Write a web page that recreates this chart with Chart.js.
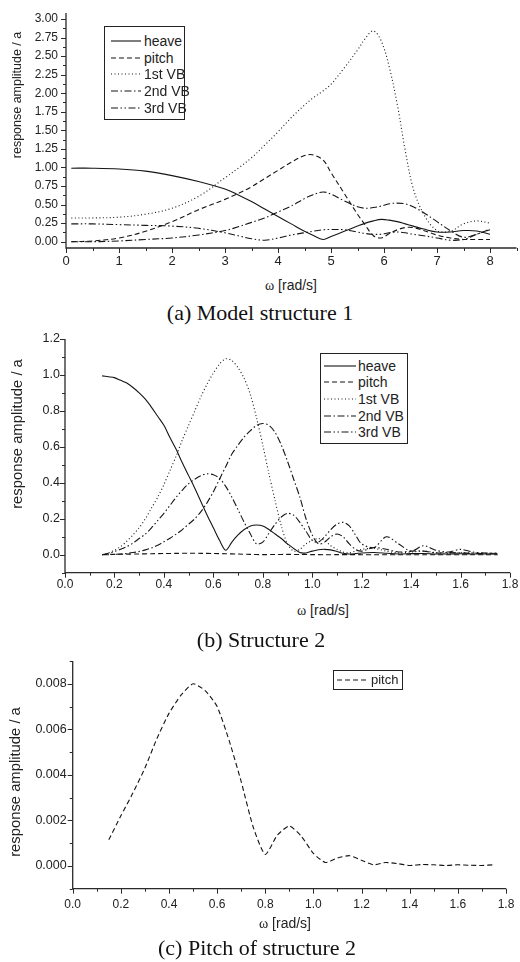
<!DOCTYPE html>
<html><head><meta charset="utf-8">
<script src="https://cdn.jsdelivr.net/npm/chart.js@4.4.1/dist/chart.umd.min.js"></script>
<style>
html,body{margin:0;padding:0;background:#fff;}
body{width:520px;height:962px;position:relative;overflow:hidden;font-family:"Liberation Sans",Arial,sans-serif;color:#222;}
canvas{position:absolute;left:0;}
.ytitle{position:absolute;white-space:nowrap;transform:translate(-50%,-50%) rotate(-90deg);line-height:1;color:#222;}
.xtitle{position:absolute;white-space:nowrap;transform:translate(-50%,-50%);line-height:1;font-size:14px;color:#222;}
.xtitle .w{font-family:"Liberation Serif","Times New Roman",serif;}
.caption{position:absolute;white-space:nowrap;transform:translate(-50%,-50%);font-family:"Liberation Serif","Times New Roman",serif;font-size:22px;line-height:1;color:#111;}
.legend{position:absolute;border:1px solid #222;background:#fff;box-sizing:border-box;}
.legend .row{position:absolute;left:0;height:16px;display:flex;align-items:center;white-space:nowrap;color:#222;}
.legend svg{position:absolute;top:6px;}
.legend span{position:absolute;line-height:16px;top:0;}
</style></head><body>
<canvas id="ca" width="520" height="275" style="top:0px"></canvas>
<canvas id="cb" width="520" height="270" style="top:330px"></canvas>
<canvas id="cc" width="520" height="265" style="top:650px"></canvas>

<div class="ytitle" style="left:17px;top:95px;font-size:12.5px">response amplitude / a</div>
<div class="xtitle" style="left:291px;top:285px"><span class="w">ω</span> [rad/s]</div>
<div class="caption" style="left:260px;top:313px">(a) Model structure 1</div>

<div class="ytitle" style="left:17px;top:434px;font-size:14.8px">response amplitude / a</div>
<div class="xtitle" style="left:323px;top:610px"><span class="w">ω</span> [rad/s]</div>
<div class="caption" style="left:261px;top:640px">(b) Structure 2</div>

<div class="ytitle" style="left:15px;top:782px;font-size:14.8px">response amplitude / a</div>
<div class="xtitle" style="left:285px;top:923px"><span class="w">ω</span> [rad/s]</div>
<div class="caption" style="left:257px;top:948px">(c) Pitch of structure 2</div>

<div id="lega" class="legend" style="left:104px;top:26px;width:81px;height:94px"></div>
<div id="legb" class="legend" style="left:320px;top:353px;width:88px;height:91px"></div>
<div id="legc" class="legend" style="left:333px;top:670px;width:70px;height:20px"></div>

<script>
// ---------------- data ----------------
const seriesNames = ['heave', 'pitch', '1st VB', '2nd VB', '3rd VB'];

// (a) Model structure 1
const omegaA = [0.1,0.5,1,1.5,2,2.5,3,3.25,3.5,3.75,4,4.25,4.5,4.65,4.85,5,5.25,5.5,5.65,5.8,5.95,6.1,6.25,6.4,6.55,6.75,7,7.25,7.5,7.75,8];
const heaveA = [0.99,0.99,0.98,0.95,0.89,0.81,0.71,0.63,0.54,0.44,0.34,0.24,0.14,0.09,0.03,0.07,0.14,0.21,0.25,0.28,0.30,0.29,0.27,0.24,0.21,0.17,0.13,0.13,0.15,0.145,0.10];
const pitchA = [0.0,0.01,0.05,0.14,0.27,0.43,0.57,0.65,0.74,0.85,0.96,1.07,1.16,1.17,1.10,0.93,0.65,0.37,0.22,0.08,0.05,0.11,0.16,0.19,0.19,0.15,0.09,0.05,0.03,0.03,0.03];
const vb1A = [0.32,0.32,0.33,0.37,0.45,0.61,0.86,0.99,1.13,1.30,1.48,1.67,1.84,1.93,2.03,2.12,2.34,2.58,2.74,2.84,2.70,2.35,1.85,1.23,0.72,0.37,0.15,0.14,0.24,0.28,0.25];
const vb2A = [0.0,0.0,0.01,0.03,0.05,0.09,0.15,0.20,0.26,0.32,0.40,0.48,0.58,0.63,0.67,0.64,0.55,0.47,0.45,0.46,0.48,0.51,0.52,0.51,0.47,0.39,0.27,0.15,0.06,0.10,0.17];
const vb3A = [0.24,0.24,0.23,0.22,0.21,0.18,0.12,0.08,0.04,0.02,0.05,0.09,0.12,0.14,0.16,0.165,0.16,0.13,0.11,0.10,0.10,0.12,0.13,0.12,0.10,0.08,0.05,0.02,0.03,0.10,0.16];

// (b) Structure 2
const omegaB = [0.15,0.175,0.2,0.225,0.25,0.275,0.3,0.325,0.35,0.375,0.4,0.425,0.45,0.475,0.5,0.525,0.55,0.575,0.6,0.625,0.65,0.675,0.7,0.725,0.75,0.775,0.8,0.825,0.85,0.875,0.9,0.925,0.95,0.975,1.0,1.025,1.05,1.075,1.1,1.125,1.15,1.175,1.2,1.25,1.3,1.35,1.4,1.45,1.5,1.55,1.6,1.65,1.7,1.75];
const heaveB = [0.995,0.99,0.985,0.97,0.955,0.93,0.90,0.865,0.82,0.77,0.72,0.65,0.585,0.51,0.44,0.37,0.295,0.22,0.15,0.08,0.025,0.07,0.11,0.14,0.16,0.165,0.16,0.14,0.115,0.09,0.06,0.035,0.012,0.01,0.02,0.028,0.03,0.027,0.018,0.008,0.004,0.006,0.01,0.012,0.008,0.004,0.006,0.007,0.004,0.004,0.005,0.004,0.004,0.004];
const vb1B = [0.0,0.01,0.025,0.045,0.075,0.11,0.15,0.20,0.26,0.32,0.39,0.47,0.55,0.64,0.72,0.80,0.88,0.95,1.01,1.06,1.09,1.08,1.04,0.98,0.89,0.76,0.61,0.45,0.30,0.16,0.06,0.02,0.03,0.06,0.08,0.09,0.08,0.05,0.03,0.015,0.01,0.02,0.03,0.035,0.02,0.01,0.015,0.02,0.012,0.008,0.012,0.01,0.008,0.008];
const vb2B = [0.0,0.0,0.002,0.004,0.007,0.012,0.018,0.027,0.038,0.053,0.072,0.092,0.115,0.14,0.17,0.20,0.24,0.29,0.35,0.42,0.49,0.56,0.61,0.655,0.69,0.72,0.73,0.72,0.68,0.61,0.52,0.42,0.32,0.20,0.11,0.06,0.07,0.10,0.115,0.10,0.06,0.03,0.02,0.04,0.03,0.015,0.02,0.02,0.01,0.012,0.01,0.008,0.006,0.005];
const vb3B = [0.0,0.008,0.018,0.03,0.045,0.065,0.09,0.115,0.15,0.19,0.23,0.275,0.32,0.36,0.395,0.42,0.44,0.45,0.445,0.425,0.38,0.32,0.25,0.18,0.115,0.06,0.07,0.12,0.17,0.21,0.23,0.22,0.18,0.13,0.08,0.07,0.10,0.14,0.17,0.18,0.16,0.11,0.06,0.04,0.10,0.06,0.02,0.05,0.025,0.015,0.03,0.015,0.01,0.01];

// (c) Pitch of structure 2 (also the pitch curve of (b))
const omegaC = [0.15,0.2,0.25,0.3,0.35,0.4,0.45,0.5,0.55,0.6,0.65,0.7,0.75,0.8,0.85,0.9,0.95,1.0,1.05,1.1,1.15,1.2,1.25,1.3,1.35,1.4,1.45,1.5,1.55,1.6,1.65,1.7,1.75];
const pitchC = [0.00115,0.0022,0.0032,0.0043,0.0056,0.0067,0.0075,0.0080,0.0077,0.0070,0.0055,0.0037,0.0017,0.0005,0.00135,0.00175,0.0013,0.00055,0.00015,0.00035,0.00045,0.00025,0.00005,0.00015,0.0001,0.00002,0.00006,0.00005,0.00002,0.00005,0.00003,0.00002,0.00005];

// ticks
const ticksAX = [0,1,2,3,4,5,6,7,8];
const labelsAX = ['0','1','2','3','4','5','6','7','8'];
const minorAX = [0.5,1.5,2.5,3.5,4.5,5.5,6.5,7.5,8.5];
const ticksAY = [0,0.25,0.5,0.75,1,1.25,1.5,1.75,2,2.25,2.5,2.75,3];
const labelsAY = ['0.00','0.25','0.50','0.75','1.00','1.25','1.50','1.75','2.00','2.25','2.50','2.75','3.00'];
const minorAY = [0.125,0.375,0.625,0.875,1.125,1.375,1.625,1.875,2.125,2.375,2.625,2.875];

const ticksBX = [0,0.2,0.4,0.6,0.8,1.0,1.2,1.4,1.6,1.8];
const labelsBX = ['0.0','0.2','0.4','0.6','0.8','1.0','1.2','1.4','1.6','1.8'];
const minorBX = [0.1,0.3,0.5,0.7,0.9,1.1,1.3,1.5,1.7];
const ticksBY = [0,0.2,0.4,0.6,0.8,1.0,1.2];
const labelsBY = ['0.0','0.2','0.4','0.6','0.8','1.0','1.2'];
const minorBY = [-0.1,0.1,0.3,0.5,0.7,0.9,1.1];

const ticksCY = [0,0.002,0.004,0.006,0.008];
const labelsCY = ['0.000','0.002','0.004','0.006','0.008'];
const minorCY = [-0.001,0.001,0.003,0.005,0.007,0.009];

// ---------------- styles ----------------
const dashes = [[], [5,3], [1,2.5], [7,2.5,1.5,2.5], [7,2.5,1.5,2.5,1.5,2.5]];
const lineColor = '#151515';

const originAxes = {
  id: 'originAxes',
  afterDatasetsDraw(chart, args, o) {
    const {ctx, chartArea: a} = chart;
    const xs = chart.scales.x, ys = chart.scales.y;
    ctx.save();
    ctx.setLineDash([]);
    ctx.strokeStyle = '#2a2a2a';
    ctx.lineWidth = 1.3;
    ctx.beginPath();
    ctx.moveTo(a.left, a.top);
    ctx.lineTo(a.left, a.bottom);
    ctx.lineTo(a.right, a.bottom);
    ctx.stroke();
    ctx.lineWidth = 1;
    ctx.beginPath();
    const tx = (vals, len) => vals.forEach(v => {
      if (v < xs.min - 1e-9 || v > xs.max + 1e-9) return;
      const p = Math.round(xs.getPixelForValue(v)) + 0.5;
      ctx.moveTo(p, a.bottom); ctx.lineTo(p, a.bottom + len);
    });
    const ty = (vals, len) => vals.forEach(v => {
      if (v < ys.min - 1e-9 || v > ys.max + 1e-9) return;
      const p = Math.round(ys.getPixelForValue(v)) + 0.5;
      ctx.moveTo(a.left, p); ctx.lineTo(a.left - len, p);
    });
    tx(o.xMajor, 5); tx(o.xMinor, 3); ty(o.yMajor, 5); ty(o.yMinor, 3);
    ctx.stroke();
    ctx.restore();
  }
};

function ds(name, idx, xs, ys, tension) {
  return {
    label: name,
    data: xs.map((x, i) => ({x: x, y: ys[i]})),
    borderColor: lineColor,
    borderWidth: 1.1,
    borderDash: dashes[idx],
    pointRadius: 0,
    fill: false,
    tension: tension
  };
}

function makeChart(id, g, datasets, ax) {
  const ctop = g.ctop, ch = g.ch;
  return new Chart(document.getElementById(id), {
    type: 'line',
    data: {datasets: datasets},
    plugins: [originAxes],
    options: {
      responsive: false,
      animation: false,
      events: [],
      layout: {padding: {left: 0, right: 520 - g.R, top: g.T - ctop, bottom: 0}},
      plugins: {legend: {display: false}, tooltip: {enabled: false}, originAxes: ax.plug},
      scales: {
        x: {
          type: 'linear', min: ax.xmin, max: ax.xmax,
          afterBuildTicks: s => { s.ticks = ax.xt.map(v => ({value: v})); },
          afterFit: s => { s.height = ctop + ch - g.B; s.paddingLeft = 0; s.paddingRight = 0; },
          grid: {display: false, drawTicks: false},
          border: {display: false},
          ticks: {
            autoSkip: false, maxRotation: 0, padding: ax.xpad, color: '#222',
            font: {family: 'Liberation Sans', size: ax.xfs},
            callback: (v, i) => ax.xl[i]
          }
        },
        y: {
          type: 'linear', min: ax.ymin, max: ax.ymax,
          afterBuildTicks: s => { s.ticks = ax.yt.map(v => ({value: v})); },
          afterFit: s => { s.width = g.L; s.paddingTop = 0; s.paddingBottom = 0; },
          grid: {display: false, drawTicks: false},
          border: {display: false},
          ticks: {
            autoSkip: false, padding: ax.ypad, color: '#222',
            font: {family: 'Liberation Sans', size: ax.yfs},
            callback: (v, i) => ax.yl[i]
          }
        }
      }
    }
  });
}

// chart (a)
makeChart('ca', {ctop: 0, ch: 275, L: 66, R: 516.5, T: 13, B: 248}, [
  ds(seriesNames[0], 0, omegaA, heaveA, 0.35),
  ds(seriesNames[1], 1, omegaA, pitchA, 0.35),
  ds(seriesNames[2], 2, omegaA, vb1A, 0.35),
  ds(seriesNames[3], 3, omegaA, vb2A, 0.35),
  ds(seriesNames[4], 4, omegaA, vb3A, 0.35)
], {xmin: 0, xmax: 8.5, ymin: -0.085, ymax: 3.08, xt: ticksAX, xl: labelsAX, yt: ticksAY, yl: labelsAY,
    xpad: 6, ypad: 8, xfs: 13, yfs: 12,
    plug: {xMajor: ticksAX, xMinor: minorAX, yMajor: ticksAY, yMinor: minorAY}});

// chart (b)
makeChart('cb', {ctop: 330, ch: 270, L: 65, R: 510, T: 339, B: 572.7}, [
  ds(seriesNames[0], 0, omegaB, heaveB, 0.3),
  ds(seriesNames[1], 1, omegaC, pitchC, 0.3),
  ds(seriesNames[2], 2, omegaB, vb1B, 0.3),
  ds(seriesNames[3], 3, omegaB, vb2B, 0.3),
  ds(seriesNames[4], 4, omegaB, vb3B, 0.3)
], {xmin: 0, xmax: 1.8, ymin: -0.1, ymax: 1.2, xt: ticksBX, xl: labelsBX, yt: ticksBY, yl: labelsBY,
    xpad: 5, ypad: 5, xfs: 12, yfs: 12.5,
    plug: {xMajor: ticksBX, xMinor: minorBX, yMajor: ticksBY, yMinor: minorBY}});

// chart (c)
makeChart('cc', {ctop: 650, ch: 265, L: 72.7, R: 506, T: 661, B: 888.7}, [
  ds(seriesNames[1], 1, omegaC, pitchC, 0.2)
], {xmin: 0, xmax: 1.8, ymin: -0.001, ymax: 0.009, xt: ticksBX, xl: labelsBX, yt: ticksCY, yl: labelsCY,
    xpad: 9, ypad: 6, xfs: 12, yfs: 12.5,
    plug: {xMajor: ticksBX, xMinor: minorBX, yMajor: ticksCY, yMinor: minorCY}});

// ---------------- legends ----------------
function legend(id, idxs, g) {
  const box = document.getElementById(id);
  idxs.forEach((k, r) => {
    const row = document.createElement('div');
    row.className = 'row';
    row.style.top = (g.y0 + g.dy * r - 8) + 'px';
    row.style.width = '100%';
    const svgNS = 'http://www.w3.org/2000/svg';
    const svg = document.createElementNS(svgNS, 'svg');
    svg.setAttribute('width', g.sw); svg.setAttribute('height', 4);
    svg.style.left = g.sx + 'px'; svg.style.top = '6px';
    const ln = document.createElementNS(svgNS, 'line');
    ln.setAttribute('x1', 0); ln.setAttribute('y1', 2); ln.setAttribute('x2', g.sw); ln.setAttribute('y2', 2);
    ln.setAttribute('stroke', lineColor); ln.setAttribute('stroke-width', 1.1);
    if (dashes[k].length) ln.setAttribute('stroke-dasharray', dashes[k].join(' '));
    svg.appendChild(ln);
    const sp = document.createElement('span');
    sp.textContent = seriesNames[k];
    sp.style.left = g.tx + 'px';
    sp.style.fontSize = g.fs + 'px';
    row.appendChild(svg); row.appendChild(sp);
    box.appendChild(row);
  });
}
legend('lega', [0,1,2,3,4], {y0: 14, dy: 16.7, sx: 6, sw: 30, tx: 39, fs: 14});
legend('legb', [0,1,2,3,4], {y0: 11.5, dy: 16.7, sx: 3, sw: 32, tx: 37, fs: 14});
legend('legc', [1], {y0: 9, dy: 0, sx: 3, sw: 32, tx: 37, fs: 13});
</script>
</body></html>
